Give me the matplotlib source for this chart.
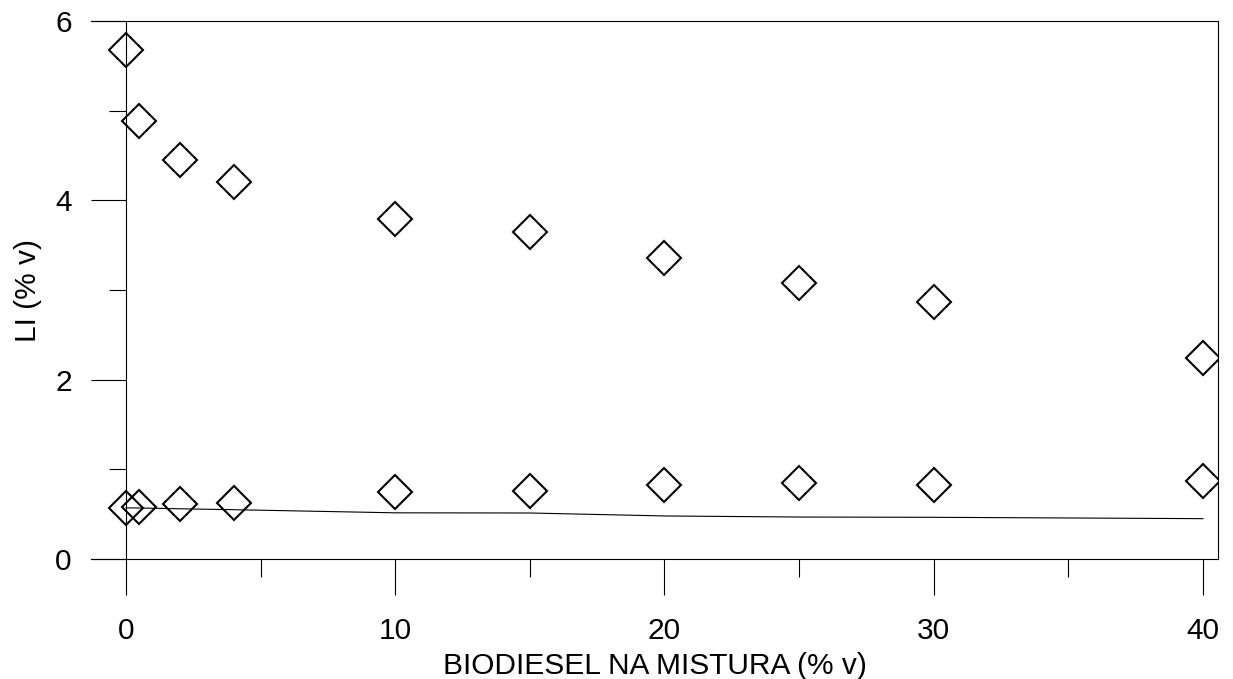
import numpy as np
import matplotlib
matplotlib.use("Agg")
import matplotlib.pyplot as plt
from matplotlib.ticker import MultipleLocator

plt.rcParams['font.family'] = ['Liberation Sans', 'DejaVu Sans']

# biodiesel content in the blend (% v)
biodiesel = [0, 0.5, 2, 4, 10, 15, 20, 25, 30, 40]
# LI measured, upper and lower series (% v)
li_upper = [5.68, 4.88, 4.45, 4.21, 3.795, 3.643, 3.353, 3.075, 2.863, 2.245]
li_lower = [0.565, 0.577, 0.61, 0.62, 0.75, 0.758, 0.82, 0.844, 0.825, 0.866]
# reference curve
li_curve = [0.57, 0.569, 0.56, 0.55, 0.515, 0.513, 0.48, 0.468, 0.465, 0.45]

FS = 21.5

fig = plt.figure(figsize=(12.33, 6.79), dpi=100)
ax = fig.add_axes([91 / 1233, 1 - 559 / 679, (1218 - 91) / 1233, (559 - 21) / 679])

ax.plot(biodiesel, li_curve, color='black', lw=0.8)
mk = dict(marker='D', ms=17.3, mew=1.5, mec='black', mfc='none', ls='none')
ax.plot(biodiesel, li_upper, **mk)
ax.plot(biodiesel, li_lower, **mk)

ax.set_xlim(-1.3, 40.56)
ax.set_ylim(0, 6)

# y axis sits on x = 0, frame lines run past it
ax.spines['left'].set_position(('data', 0))
for s in ax.spines.values():
    s.set_linewidth(0.8)

ax.xaxis.set_major_locator(MultipleLocator(10))
ax.xaxis.set_minor_locator(MultipleLocator(5))
ax.yaxis.set_major_locator(MultipleLocator(2))
ax.yaxis.set_minor_locator(MultipleLocator(1))

ax.tick_params(axis='x', which='major', direction='out', length=26, width=0.8, pad=15.5, labelsize=FS)
ax.tick_params(axis='x', which='minor', direction='out', length=13, width=0.8)
ax.tick_params(axis='y', which='major', direction='out', length=25, width=0.8, pad=14, labelsize=FS)
ax.tick_params(axis='y', which='minor', direction='out', length=12.5, width=0.8)

ax.set_xlabel('BIODIESEL NA MISTURA (% v)', fontsize=FS, labelpad=5)
ax.set_ylabel('LI (% v)', fontsize=FS)
ax.yaxis.set_label_coords(-0.0435, 0.5)

fig.savefig('out.png', dpi=100)
